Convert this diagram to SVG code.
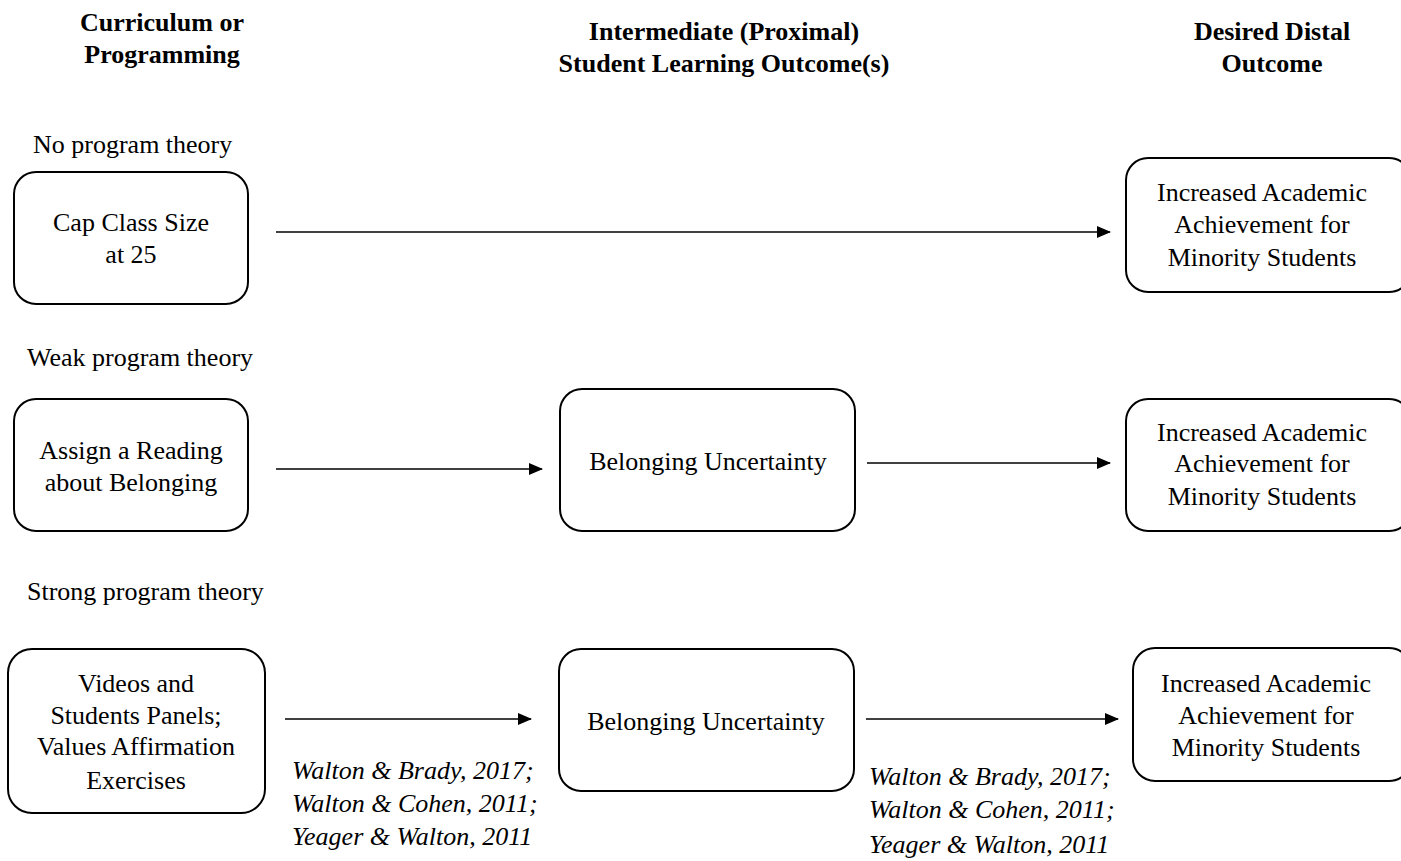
<svg xmlns="http://www.w3.org/2000/svg" width="1401" height="861" viewBox="0 0 1401 861">
<style>
text{font-family:"Liberation Serif","Times New Roman",serif;font-size:26px;fill:#000}
.h{font-weight:bold;text-anchor:middle}
.c{text-anchor:middle}
.i{font-style:italic}
.box{fill:#fff;stroke:#000;stroke-width:2}
.ar{stroke:#000;stroke-width:1.6;fill:none;marker-end:url(#ah)}
</style>
<defs>
<marker id="ah" markerWidth="14" markerHeight="12" refX="13" refY="6" orient="auto" markerUnits="userSpaceOnUse">
<path d="M0,0 L14,6 L0,12 Z" fill="#000"/>
</marker>
</defs>
<rect width="1401" height="861" fill="#fff"/>
<g id="headers">
<text class="h" x="162" y="31">Curriculum or</text>
<text class="h" x="162" y="63">Programming</text>
<text class="h" x="724" y="40">Intermediate (Proximal)</text>
<text class="h" x="724" y="72">Student Learning Outcome(s)</text>
<text class="h" x="1272" y="40">Desired Distal</text>
<text class="h" x="1272" y="72">Outcome</text>
</g>
<g id="row-labels">
<text x="33" y="153">No program theory</text>
<text x="27" y="366">Weak program theory</text>
<text x="27" y="600">Strong program theory</text>
</g>
<g id="connectors">
<line class="ar" x1="276" y1="232" x2="1110" y2="232"/>
<line class="ar" x1="276" y1="469" x2="542" y2="469"/>
<line class="ar" x1="867" y1="463" x2="1110" y2="463"/>
<line class="ar" x1="285" y1="719" x2="531" y2="719"/>
<line class="ar" x1="866" y1="719" x2="1118" y2="719"/>
</g>
<g id="n1">
<rect class="box" x="14" y="172" width="234" height="132" rx="22"/>
<text class="c" x="131" y="231">Cap Class Size</text>
<text class="c" x="131" y="263">at 25</text>
</g>
<g id="n2">
<rect class="box" x="1126" y="158" width="285" height="134" rx="22"/>
<text class="c" x="1262" y="201">Increased Academic</text>
<text class="c" x="1262" y="233">Achievement for</text>
<text class="c" x="1262" y="266">Minority Students</text>
</g>
<g id="n3">
<rect class="box" x="14" y="399" width="234" height="132" rx="22"/>
<text class="c" x="131" y="459">Assign a Reading</text>
<text class="c" x="131" y="491">about Belonging</text>
</g>
<g id="n4">
<rect class="box" x="560" y="389" width="295" height="142" rx="22"/>
<text class="c" x="708" y="470">Belonging Uncertainty</text>
</g>
<g id="n5">
<rect class="box" x="1126" y="399" width="285" height="132" rx="22"/>
<text class="c" x="1262" y="441">Increased Academic</text>
<text class="c" x="1262" y="472">Achievement for</text>
<text class="c" x="1262" y="505">Minority Students</text>
</g>
<g id="n6">
<rect class="box" x="8" y="649" width="257" height="164" rx="24"/>
<text class="c" x="136" y="692">Videos and</text>
<text class="c" x="136" y="724">Students Panels;</text>
<text class="c" x="136" y="755">Values Affirmation</text>
<text class="c" x="136" y="789">Exercises</text>
</g>
<g id="n7">
<rect class="box" x="559" y="649" width="295" height="142" rx="22"/>
<text class="c" x="706" y="730">Belonging Uncertainty</text>
</g>
<g id="n8">
<rect class="box" x="1133" y="648" width="278" height="133" rx="22"/>
<text class="c" x="1266" y="692">Increased Academic</text>
<text class="c" x="1266" y="724">Achievement for</text>
<text class="c" x="1266" y="756">Minority Students</text>
</g>
<g id="cite1">
<text class="i" x="292" y="779">Walton &amp; Brady, 2017;</text>
<text class="i" x="292" y="812">Walton &amp; Cohen, 2011;</text>
<text class="i" x="292" y="845">Yeager &amp; Walton, 2011</text>
</g>
<g id="cite2">
<text class="i" x="869" y="785">Walton &amp; Brady, 2017;</text>
<text class="i" x="869" y="818">Walton &amp; Cohen, 2011;</text>
<text class="i" x="869" y="853">Yeager &amp; Walton, 2011</text>
</g>
</svg>
